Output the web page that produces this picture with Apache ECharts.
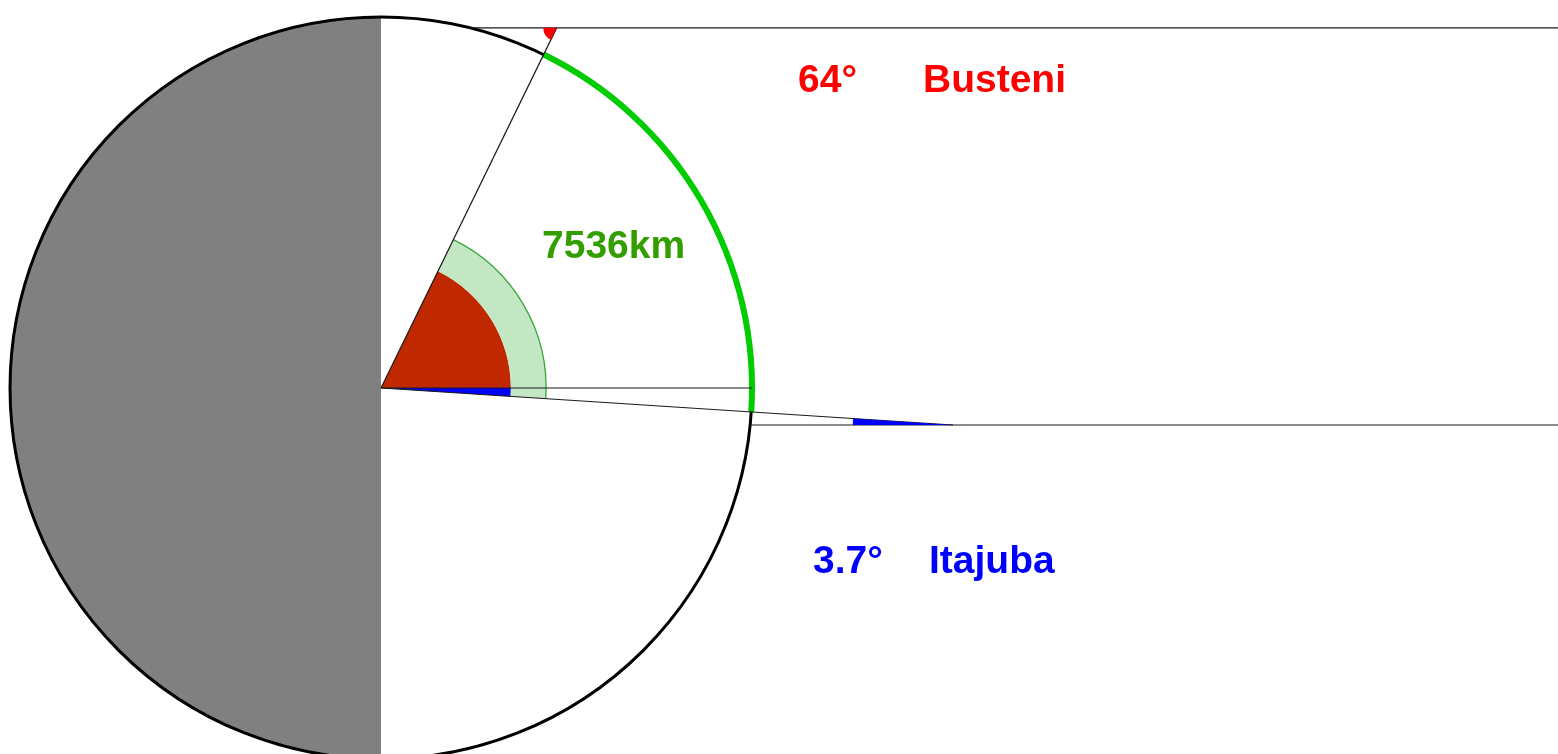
<!DOCTYPE html>
<html>
<head>
<meta charset="utf-8">
<script src="https://cdn.jsdelivr.net/npm/echarts@6/dist/echarts.min.js"></script>
<style>
    html, body { margin: 0; padding: 0; background: #fff; }
    #earth { width: 1558px; height: 754px; }
</style>
</head>
<body>
<div id="earth"></div>
<script>
    // sites and measured sun angles (degrees)
    var places = ['Busteni', 'Itajuba'];
    var sunAngles = [64, 3.7];
    // angular position of each site on the circle, degrees from the horizontal
    var siteAngles = [64, -3.7];
    // where the sun ray meets the extended radius, in earth radii
    var rayTips = [1.08, 1.545];
    var arcKm = [7536];
    // axis ranges in earth radii
    var xRange = [-1.027, 3.1725];
    var yRange = [-0.9865, 1.0458];

    var labelColors = ['#ff0000', '#0000ff'];
    var d2r = Math.PI / 180;

    var earthChart = echarts.init(document.getElementById('earth'));

    var renderEarth = function (params, api) {
        var c = api.coord([0, 0]);
        var R = api.size([1, 0])[0];
        var pt = function (r, deg) {
            return api.coord([r * Math.cos(deg * d2r), r * Math.sin(deg * d2r)]);
        };
        var a1 = siteAngles[0], a2 = siteAngles[1];
        var thin = {stroke: '#1a1a1a', lineWidth: 1.2, fill: null};
        var children = [];

        // night side
        children.push({
            type: 'sector',
            shape: {cx: c[0], cy: c[1], r: R, r0: 0, startAngle: Math.PI / 2, endAngle: Math.PI * 1.5, clockwise: true},
            style: {fill: '#808080'}
        });
        // central angle
        children.push({
            type: 'sector',
            shape: {cx: c[0], cy: c[1], r: R * 0.35, r0: 0, startAngle: -a1 * d2r, endAngle: 0, clockwise: true},
            style: {fill: '#c02800'}
        });
        children.push({
            type: 'sector',
            shape: {cx: c[0], cy: c[1], r: R * 0.35, r0: 0, startAngle: 0, endAngle: -a2 * d2r, clockwise: true},
            style: {fill: '#0000ff'}
        });
        children.push({
            type: 'sector',
            shape: {cx: c[0], cy: c[1], r: R * 0.445, r0: R * 0.35, startAngle: -a1 * d2r, endAngle: -a2 * d2r, clockwise: true},
            style: {fill: '#c3e6c3'}
        });
        children.push({
            type: 'arc',
            shape: {cx: c[0], cy: c[1], r: R * 0.445, startAngle: -a1 * d2r, endAngle: -a2 * d2r, clockwise: true},
            style: {stroke: '#3aa83a', lineWidth: 1.3, fill: null}
        });
        // earth outline
        children.push({
            type: 'circle',
            shape: {cx: c[0], cy: c[1], r: R},
            style: {stroke: '#000', lineWidth: 3, fill: null}
        });
        // arc between the two sites
        children.push({
            type: 'arc',
            shape: {cx: c[0], cy: c[1], r: R, startAngle: -a1 * d2r, endAngle: -a2 * d2r, clockwise: true},
            style: {stroke: '#00cc00', lineWidth: 6, fill: null}
        });

        // radii, equator line and sun rays
        var tips = [];
        for (var i = 0; i < siteAngles.length; i++) {
            var tip = pt(rayTips[i], siteAngles[i]);
            tips.push(tip);
            children.push({type: 'line', shape: {x1: c[0], y1: c[1], x2: tip[0], y2: tip[1]}, style: thin});
            var ry = rayTips[i] * Math.sin(siteAngles[i] * d2r);
            var p0 = api.coord([Math.sqrt(1 - ry * ry), ry]);
            var p1 = api.coord([xRange[1], ry]);
            children.push({type: 'line', shape: {x1: p0[0], y1: p0[1], x2: p1[0], y2: p1[1]}, style: thin});
        }
        var e = pt(1, 0);
        children.push({type: 'line', shape: {x1: c[0], y1: c[1], x2: e[0], y2: e[1]}, style: thin});

        // sun angle marks at the ray tips
        children.push({
            type: 'sector',
            shape: {cx: tips[0][0], cy: tips[0][1], r: R * 0.036, r0: 0,
                startAngle: Math.PI - sunAngles[0] * d2r, endAngle: Math.PI, clockwise: true},
            style: {fill: labelColors[0]}
        });
        children.push({
            type: 'sector',
            shape: {cx: tips[1][0], cy: tips[1][1], r: R * 0.27, r0: 0,
                startAngle: Math.PI, endAngle: Math.PI + sunAngles[1] * d2r, clockwise: true},
            style: {fill: labelColors[1]}
        });

        return {type: 'group', children: children};
    };

    var textStyle = function (text, color, x, y) {
        return {
            type: 'text',
            left: x,
            top: y,
            style: {
                text: text,
                fill: color,
                font: 'bold 39px "Liberation Sans", Arial, sans-serif'
            }
        };
    };

    var option = {
        animation: false,
        grid: {left: 0, right: 0, top: 0, bottom: 0},
        xAxis: {type: 'value', min: xRange[0], max: xRange[1], show: false},
        yAxis: {type: 'value', min: yRange[0], max: yRange[1], show: false},
        series: [{
            type: 'custom',
            coordinateSystem: 'cartesian2d',
            renderItem: renderEarth,
            data: [[0, 0]],
            silent: true
        }],
        graphic: [
            textStyle(sunAngles[0] + '°', labelColors[0], 798, 62),
            textStyle(places[0], labelColors[0], 923, 62),
            textStyle(arcKm[0] + 'km', '#339e00', 542, 228),
            textStyle(sunAngles[1] + '°', labelColors[1], 813, 543),
            textStyle(places[1], labelColors[1], 929, 543)
        ]
    };

    earthChart.setOption(option);
</script>
</body>
</html>
